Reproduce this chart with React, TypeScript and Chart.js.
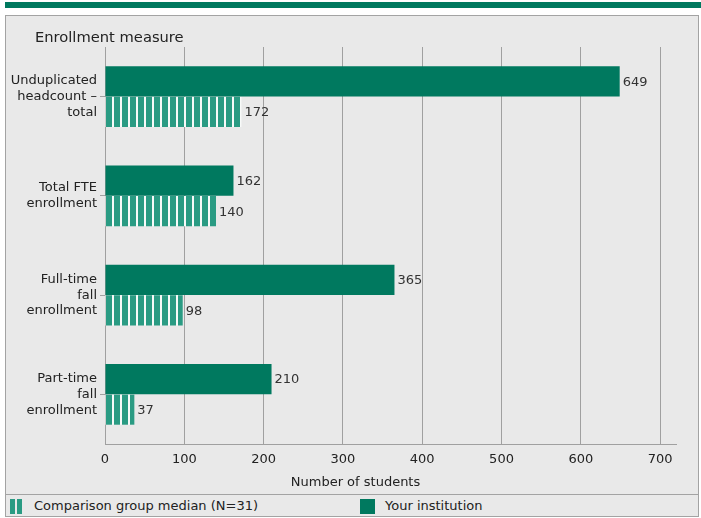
import React, { useEffect, useRef } from "react";
import { Chart, registerables } from "chart.js";

Chart.register(...registerables);

const categories: string[][] = [
  ["Unduplicated", "headcount –", "total"],
  ["Total FTE", "enrollment"],
  ["Full-time", "fall", "enrollment"],
  ["Part-time", "fall", "enrollment"],
];
const institutionValues = [649, 162, 365, 210];
const comparisonValues = [172, 140, 98, 37];
const xTickValues = [0, 100, 200, 300, 400, 500, 600, 700];
const institutionLabel = "Your institution";
const comparisonLabel = "Comparison group median (N=31)";
const yAxisTitle = "Enrollment measure";
const xAxisTitle = "Number of students";

const DARK = "#00795f";
const STRIPE = "#2a9b83";
const GAP = "#f8faf9";
const BG = "#e9e9e9";
const BORDER = "#a3a3a3";
const GRID = "#a0a0a0";
const TEXT = "#222222";
const FONT = "'DejaVu Sans', Verdana, sans-serif";

function makeStripePattern(): CanvasPattern | string {
  const c = document.createElement("canvas");
  c.width = 8;
  c.height = 8;
  const g = c.getContext("2d");
  if (!g) return STRIPE;
  g.fillStyle = GAP;
  g.fillRect(0, 0, 8, 8);
  g.fillStyle = STRIPE;
  g.fillRect(2, 0, 6, 8);
  return g.createPattern(c, "repeat") || STRIPE;
}

const textPlugin = {
  id: "valueLabels",
  afterDatasetsDraw(chart: any) {
    const ctx = chart.ctx as CanvasRenderingContext2D;
    ctx.save();
    ctx.font = `13px ${FONT}`;
    ctx.fillStyle = "#333333";
    ctx.textBaseline = "middle";
    ctx.textAlign = "left";
    chart.data.datasets.forEach((ds: any, i: number) => {
      const meta = chart.getDatasetMeta(i);
      meta.data.forEach((bar: any, j: number) => {
        ctx.fillText(String(ds.data[j]), bar.x + 3, bar.y + 1);
      });
    });
    const area = chart.chartArea;
    ctx.fillStyle = TEXT;
    ctx.font = `14.7px ${FONT}`;
    ctx.fillText(yAxisTitle, area.left - 70, area.top - 9);
    ctx.font = `13px ${FONT}`;
    ctx.textAlign = "center";
    ctx.fillText(xAxisTitle, chart.width / 2 + 5, area.bottom + 39);
    ctx.restore();
  },
};

export default function App() {
  const ref = useRef<HTMLCanvasElement | null>(null);

  useEffect(() => {
    if (!ref.current) return;
    const pattern = makeStripePattern();
    const chart = new Chart(ref.current, {
      type: "bar",
      data: {
        labels: categories,
        datasets: [
          {
            label: institutionLabel,
            data: institutionValues,
            backgroundColor: DARK,
            categoryPercentage: 0.616,
            barPercentage: 0.984,
          },
          {
            label: comparisonLabel,
            data: comparisonValues,
            backgroundColor: pattern as any,
            categoryPercentage: 0.616,
            barPercentage: 0.984,
          },
        ],
      },
      options: {
        indexAxis: "y",
        responsive: false,
        animation: false,
        devicePixelRatio: 1,
        layout: { padding: { top: 47, right: 25, left: 0, bottom: 0 } },
        plugins: {
          legend: { display: false },
          tooltip: { enabled: false },
          title: { display: false },
        },
        scales: {
          x: {
            type: "linear",
            min: 0,
            max: 720,
            afterBuildTicks: (s: any) => {
              s.ticks = xTickValues.map((v) => ({ value: v }));
            },
            afterFit: (s: any) => {
              s.height = 50;
            },
            grid: { color: GRID, drawTicks: false, lineWidth: 1 },
            border: { display: true, color: GRID },
            ticks: {
              padding: 8,
              color: TEXT,
              font: { family: FONT, size: 13 },
            },
          },
          y: {
            type: "category",
            afterFit: (s: any) => {
              s.width = 105;
            },
            grid: {
              display: true,
              drawOnChartArea: false,
              drawTicks: true,
              tickLength: 5,
              offset: false,
              color: GRID,
            },
            border: { display: true, color: GRID },
            ticks: {
              padding: 3,
              color: TEXT,
              font: { family: FONT, size: 13, lineHeight: 1.23 },
            },
          },
        },
      },
      plugins: [textPlugin],
    });
    return () => chart.destroy();
  }, []);

  const legendText: React.CSSProperties = {
    position: "absolute",
    top: 498,
    fontFamily: FONT,
    fontSize: 13,
    lineHeight: "16px",
    color: TEXT,
    whiteSpace: "nowrap",
  };

  return (
    <div style={{ position: "fixed", left: 0, top: 0, width: 701, height: 518, background: "#ffffff", overflow: "hidden" }}>
      <div style={{ position: "absolute", left: 5, top: 2, width: 696, height: 6, background: DARK }} />
      <div
        style={{
          position: "absolute",
          left: 5,
          top: 15,
          width: 694,
          height: 502,
          boxSizing: "border-box",
          border: `1px solid ${BORDER}`,
          background: BG,
        }}
      />
      <div style={{ position: "absolute", left: 5, top: 494, width: 694, height: 1, background: BORDER }} />
      <div style={{ position: "absolute", left: 10, top: 499, width: 5, height: 15, background: STRIPE }} />
      <div style={{ position: "absolute", left: 17, top: 499, width: 5, height: 15, background: STRIPE }} />
      <div style={{ ...legendText, left: 34 }}>{comparisonLabel}</div>
      <div style={{ position: "absolute", left: 360, top: 499, width: 15, height: 15, background: DARK }} />
      <div style={{ ...legendText, left: 385 }}>{institutionLabel}</div>
      <canvas
        ref={ref}
        width={701}
        height={494}
        style={{ position: "absolute", left: 0, top: 0, width: 701, height: 494 }}
      />
    </div>
  );
}
